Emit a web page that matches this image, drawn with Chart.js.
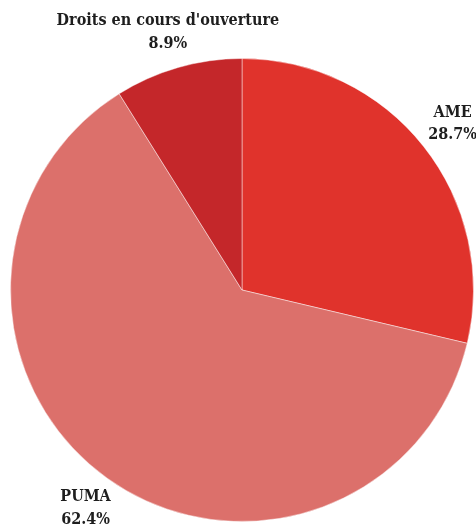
<!DOCTYPE html>
<html>
<head>
<meta charset="utf-8">
<script src="https://cdn.jsdelivr.net/npm/chart.js@4"></script>
<style>
  html, body { margin: 0; padding: 0; background: #fff; }
  #wrap { width: 476px; height: 524px; }
</style>
</head>
<body>
<div id="wrap"><canvas id="pie"></canvas></div>
<script>
const labels = ['AME', 'PUMA', "Droits en cours d'ouverture"];
const shares = [28.7, 62.4, 8.9];
const colors = ['#e0332c', '#dc706b', '#c4272a'];

// writes "name / value%" a little outside each slice, on its middle angle
const outsideLabels = {
    id: 'outsideLabels',
    afterDraw(chart) {
        const ctx = chart.ctx;
        const arcs = chart.getDatasetMeta(0).data;
        ctx.save();
        ctx.font = 'bold 16px "DejaVu Serif Condensed", "DejaVu Serif", serif';
        ctx.fillStyle = '#1e1e1e';
        ctx.textAlign = 'center';
        ctx.textBaseline = 'middle';
        arcs.forEach((arc, i) => {
            const mid = (arc.startAngle + arc.endAngle) / 2;
            const r = arc.outerRadius + 37;
            const x = arc.x + Math.cos(mid) * r;
            const y = arc.y + Math.sin(mid) * r;
            ctx.fillText(labels[i], x, y - 11);
            ctx.fillText(shares[i].toFixed(1) + '%', x, y + 11.5);
        });
        ctx.restore();
    }
};

new Chart(document.getElementById('pie'), {
    type: 'pie',
    data: {
        labels: labels,
        datasets: [{
            data: shares,
            backgroundColor: colors,
            borderColor: 'rgba(255,255,255,0.45)',
            borderWidth: 1
        }]
    },
    options: {
        responsive: true,
        maintainAspectRatio: false,
        animation: false,
        layout: { padding: { left: 10, right: 2, top: 58, bottom: 2 } },
        plugins: {
            legend: { display: false },
            tooltip: { enabled: false }
        }
    },
    plugins: [outsideLabels]
});
</script>
</body>
</html>
